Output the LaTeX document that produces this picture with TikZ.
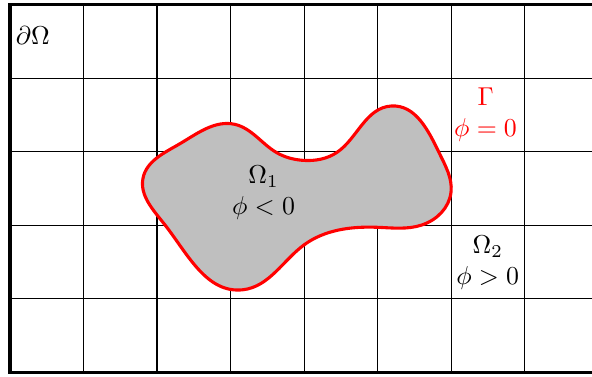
\documentclass[tikz,border=0pt]{standalone}
\usepackage{amsmath,amssymb}
\usepackage{xcolor}
\usepackage{tikz}
\usetikzlibrary{positioning, calc, hobby}

\tikzset{
    interface/.style={red, very thick, fill=black!25},
    border/.style={very thick},
    lbl/.style={align=center, inner sep=1pt}
}

\begin{document}
\begin{tikzpicture}
    \useasboundingbox (-0.136,-0.054) rectangle (7.918,5.062);

    % --- Background grid ---
    \draw[thin] (0,0) grid (8,5);

    % --- Domain boundary ---
    \draw[border] (0,0) rectangle (8,5);
    \node[lbl] (dOmega) at (0.31,4.58) {$\partial\Omega$};

    % --- Interface Gamma (zero level set) ---
    \filldraw[interface, use Hobby shortcut, closed=true]
        (1.81,2.64) .. (2.3,3.1) .. (3.06,3.37) .. (3.62,2.99)
        .. (3.99,2.88) .. (4.45,2.99) .. (5.19,3.62) .. (5.84,2.98)
        .. (6.0,2.45) .. (5.6,2.0) .. (4.99,1.97) .. (4.0,1.73)
        .. (3.17,1.12) .. (2.11,2.0);

    % --- Labels ---
    \node[lbl] (omega1) at (3.45,2.44) {$\Omega_1$\\$\phi<0$};
    \node[lbl, red] (gamma) at (6.47,3.5) {$\Gamma$\\$\phi=0$};
    \node[lbl] (omega2) at (6.5,1.49) {$\Omega_2$\\$\phi>0$};

\end{tikzpicture}
\end{document}
